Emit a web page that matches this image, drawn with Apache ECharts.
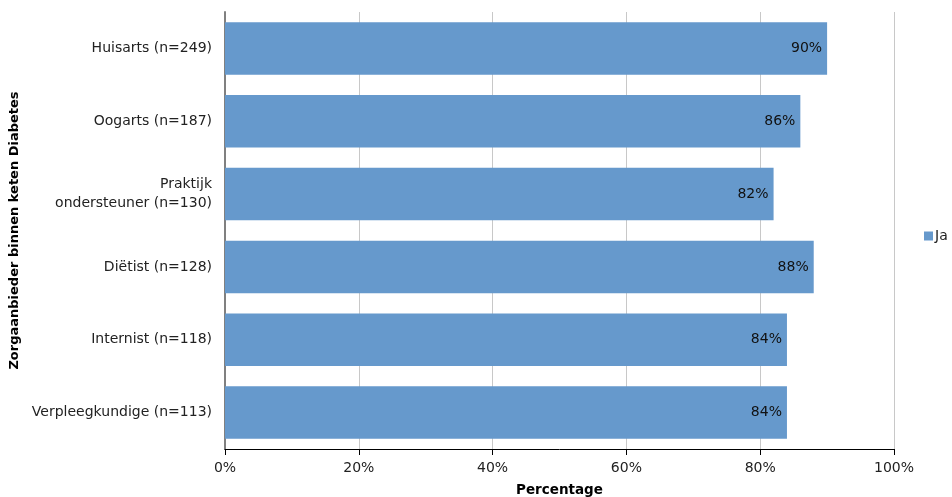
<!DOCTYPE html>
<html>
<head>
<meta charset="utf-8">
<script src="https://cdn.jsdelivr.net/npm/echarts@6/dist/echarts.min.js"></script>
<style>
html,body{margin:0;padding:0;background:#fff;}
#c{width:952px;height:497px;}
</style>
</head>
<body>
<div id="c"></div>
<script>
const categories = ["Huisarts (n=249)", "Oogarts (n=187)", "Praktijk\nondersteuner (n=130)", "Diëtist (n=128)", "Internist (n=118)", "Verpleegkundige (n=113)"];
const jaValues = [90, 86, 82, 88, 84, 84];
const xTicks = [0, 20, 40, 60, 80, 100];

const font = "DejaVu Sans, Verdana, sans-serif";
const chart = echarts.init(document.getElementById('c'), null, {renderer: 'canvas'});
chart.setOption({
  animation: false,
  textStyle: {fontFamily: font},
  grid: {left: 225, right: 58, top: 12, bottom: 48, containLabel: false, outerBoundsMode: 'none'},
  legend: {
    left: 919, top: 224, orient: 'vertical',
    itemWidth: 9, itemHeight: 9, itemGap: 4,
    icon: 'rect',
    textStyle: {fontFamily: font, fontSize: 14, color: '#222', padding: [0, 0, 0, -3]},
    data: ['Ja']
  },
  xAxis: {
    type: 'value', min: 0, max: 100, interval: 20,
    name: 'Percentage', nameLocation: 'middle', nameGap: 34,
    nameTextStyle: {fontFamily: font, fontSize: 13.5, fontWeight: 'bold', color: '#000'},
    axisLine: {show: true, lineStyle: {color: '#000', width: 1}},
    axisTick: {show: true, length: 6, lineStyle: {color: '#000'}},
    axisLabel: {fontFamily: font, fontSize: 14, color: '#222', margin: 12,
      formatter: v => xTicks.includes(v) ? v + '%' : ''},
    splitLine: {show: true, lineStyle: {color: '#c8c8c8', width: 1}}
  },
  yAxis: {
    type: 'category', data: categories, inverse: true,
    name: 'Zorgaanbieder binnen keten Diabetes', nameLocation: 'middle', nameGap: 204, nameRotate: 90,
    nameTextStyle: {fontFamily: font, fontSize: 13, fontWeight: 'bold', color: '#000'},
    axisLine: {show: true, lineStyle: {color: '#808080', width: 2}},
    axisTick: {show: false},
    axisLabel: {fontFamily: font, fontSize: 14, color: '#222', margin: 13, lineHeight: 19, align: 'right'},
    splitLine: {show: false}
  },
  series: [{
    name: 'Ja', type: 'bar', data: jaValues,
    barCategoryGap: '28%',
    itemStyle: {color: '#6699CC'},
    label: {show: true, position: 'insideRight', formatter: p => p.value + '%',
      fontFamily: font, fontSize: 14, color: '#111', distance: 5}
  }]
});
</script>
</body>
</html>
